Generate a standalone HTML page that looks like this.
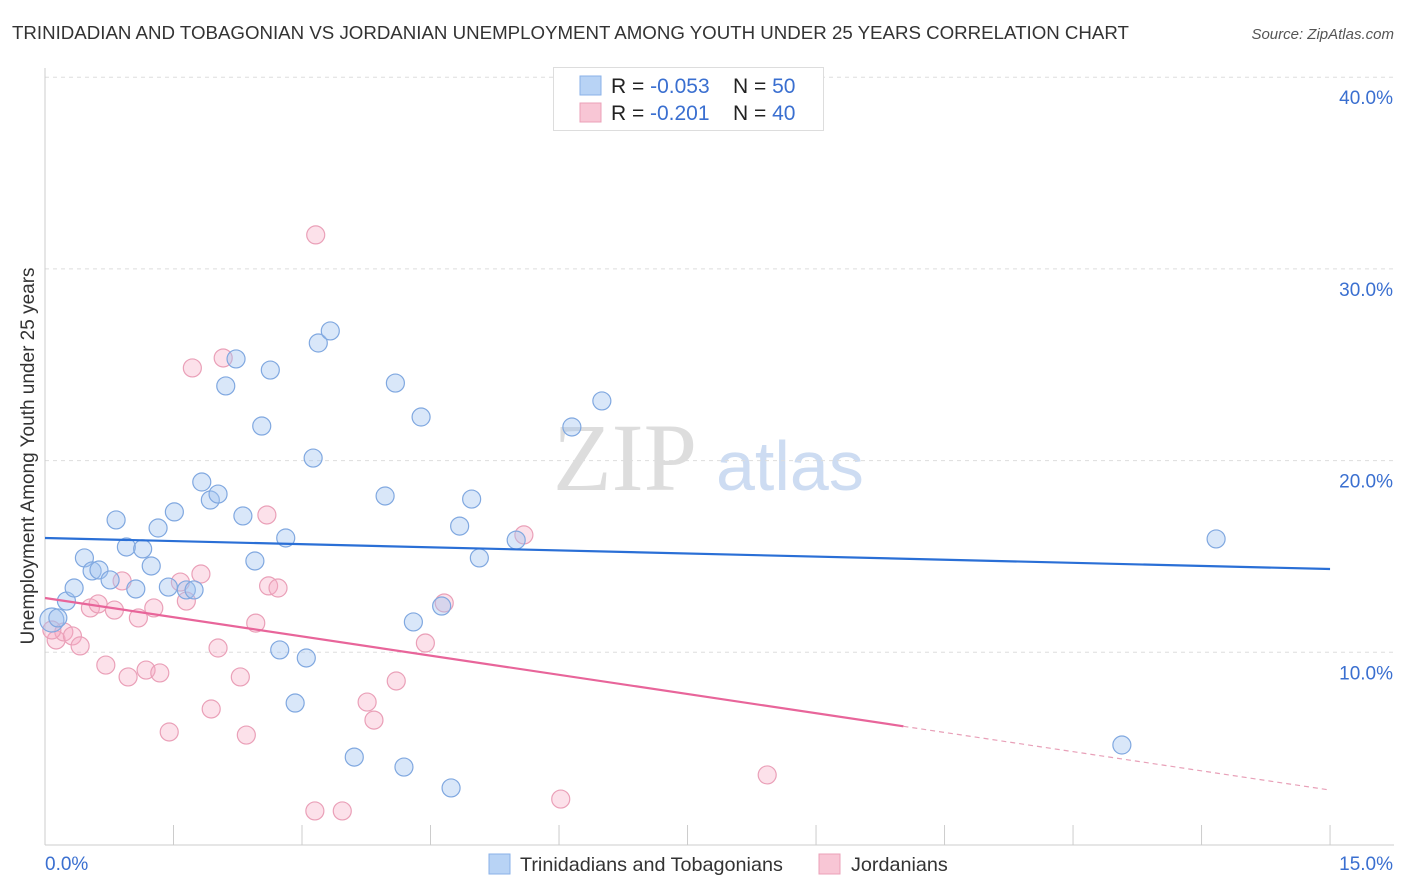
<!DOCTYPE html>
<html><head><meta charset="utf-8"><style>
body{margin:0;background:#fff;font-family:"Liberation Sans",sans-serif;}
#wrap{position:relative;width:1406px;height:892px;overflow:hidden;}
</style></head><body>
<div id="wrap">
<svg id="svg" width="1406" height="892" xmlns="http://www.w3.org/2000/svg">
<text x="12" y="39" font-size="18.7" fill="#333">TRINIDADIAN AND TOBAGONIAN VS JORDANIAN UNEMPLOYMENT AMONG YOUTH UNDER 25 YEARS CORRELATION CHART</text>
<text x="1394" y="39" font-size="15" fill="#555" font-style="italic" text-anchor="end">Source: ZipAtlas.com</text>
<text x="34" y="456" font-size="19" fill="#333" text-anchor="middle" transform="rotate(-90 34 456)">Unemployment Among Youth under 25 years</text>
<text x="553" y="490" font-size="96" fill="#ddd" font-family="Liberation Serif,serif">ZIP</text>
<text x="716" y="490" font-size="70" fill="#cddcf2">atlas</text>
<g id="grid"></g><g id="axes"></g><g id="marks"></g>
<g>
<rect x="553.5" y="67.5" width="270" height="63" fill="#fff" stroke="#ddd"/>
<rect x="580" y="76" width="21" height="19" fill="#b8d3f5" stroke="#8ab2e8"/>
<rect x="580" y="103" width="21" height="19" fill="#f8c6d5" stroke="#eba0b8"/>
<text x="611" y="93" font-size="21" fill="#222">R = <tspan fill="#3a6fd0">-0.053</tspan><tspan x="733">N = </tspan><tspan fill="#3a6fd0">50</tspan></text>
<text x="611" y="120" font-size="21" fill="#222">R = <tspan x="650" fill="#3a6fd0">-0.201</tspan><tspan x="733">N = </tspan><tspan fill="#3a6fd0">40</tspan></text>
</g>
<g>
<rect x="489" y="854" width="21" height="20" fill="#b8d3f5" stroke="#8ab2e8"/>
<text x="520" y="871" font-size="19.8" fill="#333">Trinidadians and Tobagonians</text>
<rect x="819" y="854" width="21" height="20" fill="#f8c6d5" stroke="#eba0b8"/>
<text x="851" y="871" font-size="19.8" fill="#333">Jordanians</text>
</g>
</svg></div>
<script>
const blueX=[.08,.15,.25,.34,.46,.55,.63,.76,.83,.95,1.06,1.14,1.24,1.32,1.44,1.51,1.65,1.74,1.83,1.93,2.02,2.11,2.23,2.31,2.45,2.53,2.63,2.74,2.81,2.92,3.05,3.13,3.19,3.33,3.61,3.97,4.09,4.19,4.30,4.39,4.63,4.74,4.84,4.98,5.07,5.50,6.15,6.50,12.57,13.67];
const blueY=[11.84,11.95,12.83,13.51,15.08,14.40,14.45,13.93,17.06,15.65,13.46,15.55,14.66,16.64,13.56,17.48,13.41,13.41,19.04,18.10,18.41,24.05,25.46,17.27,14.92,21.96,24.88,10.28,16.12,7.51,9.86,20.29,26.29,26.92,4.69,18.31,24.20,4.17,11.74,22.43,12.57,3.08,16.74,18.15,15.08,16.01,21.91,23.27,5.32,16.07];
const pinkX=[.13,.22,.32,.41,.53,.62,.71,.81,.90,.97,1.09,1.18,1.27,1.34,1.45,1.58,1.65,1.72,1.82,1.94,2.02,2.08,2.28,2.35,2.46,2.59,2.61,2.72,3.15,3.16,3.47,3.76,3.84,4.10,4.44,4.66,5.59,6.02,8.43,.08];
const pinkY=[10.80,11.22,11.01,10.49,12.47,12.68,9.49,12.36,13.88,8.87,11.95,9.23,12.47,9.08,6.00,13.82,12.83,24.99,14.24,7.20,10.38,25.51,8.87,5.84,11.68,17.32,13.62,13.51,1.88,31.93,1.88,7.56,6.62,8.66,10.64,12.73,16.28,2.50,3.76,11.32];
const blueTrend=[16.12,14.50];
const pinkTrend=[12.99,2.97];
const pinkSolidEnd=10.02;
const yTicks=[10,20,30,40];
const yTickLabels=["10.0%","20.0%","30.0%","40.0%"];
const xTicks=[0,1.5,3,4.5,6,7.5,9,10.5,12,13.5,15];
const NS="http://www.w3.org/2000/svg";
const sx=v=>45+v*85.67, sy=v=>847-v*19.17;
function mk(tag,attrs,parent){const e=document.createElementNS(NS,tag);for(const k in attrs)e.setAttribute(k,attrs[k]);document.getElementById(parent).appendChild(e);return e;}
yTicks.forEach((t,i)=>{
 const l=mk('line',{x1:45,x2:1394,y1:sy(t)-3,y2:sy(t)-3,stroke:'#ddd','stroke-dasharray':'4,4'},'grid');
 
 
 const tx=mk('text',{x:1393,y:sy(t)+24,'font-size':19,fill:'#3a6fd0','text-anchor':'end'},'grid');
 tx.textContent=yTickLabels[i];
 
 
});
mk('line',{x1:45,x2:45,y1:68,y2:845,stroke:'#ccc'},'axes');
mk('line',{x1:45,x2:1394,y1:845,y2:845,stroke:'#ccc'},'axes');
xTicks.forEach(t=>{const l=mk('line',{x1:sx(t),x2:sx(t),y1:825,y2:845,stroke:'#ccc'},'axes');
 
 });
const x0=mk('text',{x:45,y:870,'font-size':19,fill:'#3a6fd0'},'axes');x0.textContent='0.0%';


const x1=mk('text',{x:1393,y:870,'font-size':19,fill:'#3a6fd0','text-anchor':'end'},'axes');x1.textContent='15.0%';


pinkX.forEach((x,i)=>{const c=mk('circle',{cx:sx(x),cy:sy(pinkY[i]),r:9,fill:'rgba(245,170,195,0.35)',stroke:'#eaa0b8','stroke-width':1.2},'marks');
 
 });
blueX.forEach((x,i)=>{const c=mk('circle',{cx:sx(x),cy:sy(blueY[i]),r:i==0?12:9,fill:'rgba(160,195,240,0.4)',stroke:'#80a8e0','stroke-width':1.2},'marks');
 
 });
const pAt=x=>pinkTrend[0]+(pinkTrend[1]-pinkTrend[0])*x/15;
const bl=mk('line',{x1:sx(0),y1:sy(blueTrend[0]),x2:sx(15),y2:sy(blueTrend[1]),stroke:'#2a6fd6','stroke-width':2.2},'marks');


const pl=mk('line',{x1:sx(0),y1:sy(pAt(0)),x2:sx(pinkSolidEnd),y2:sy(pAt(pinkSolidEnd)),stroke:'#e8659a','stroke-width':2.2},'marks');


const pd=mk('line',{x1:sx(pinkSolidEnd),y1:sy(pAt(pinkSolidEnd)),x2:sx(15),y2:sy(pAt(15)),stroke:'#e8a0b8','stroke-width':1.2,'stroke-dasharray':'5,4'},'marks');


</script>
</body></html>
